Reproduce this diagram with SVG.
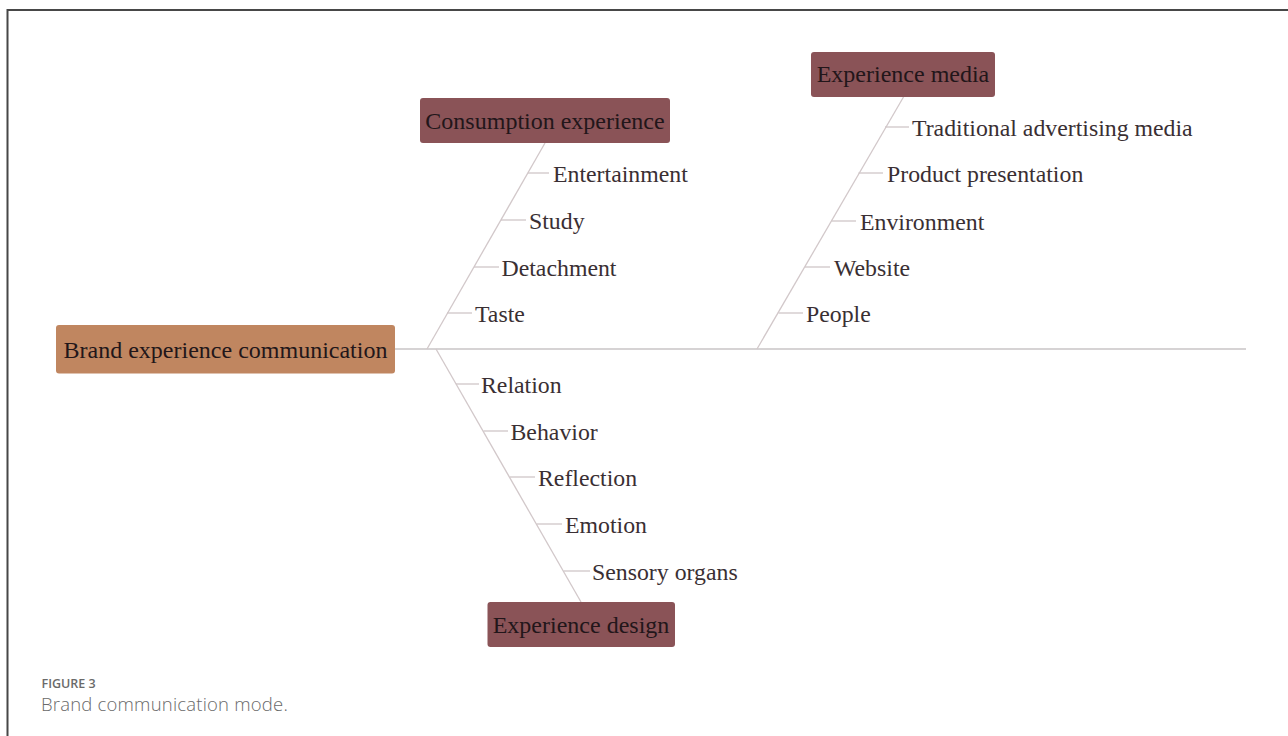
<svg xmlns="http://www.w3.org/2000/svg" width="1288" height="736" viewBox="0 0 1288 736">
<style>
.frame{stroke:#474747;stroke-width:2;fill:none}
.spine{stroke:#d6d3d4;stroke-width:2;fill:none}
.branch{stroke:#d2c8ca;stroke-width:1.3;fill:none}
.tick{stroke:#cfc6c8;stroke-width:1.3;fill:none}
.box{fill:#8a5357}
.root{fill:#c08660}
.lbl{font-family:"Liberation Serif","Times New Roman",serif;font-size:23.8px;fill:#3a2f33}
.blbl{font-family:"Liberation Serif","Times New Roman",serif;font-size:24px;fill:#22161a;text-anchor:middle}
.cap1{font-family:"Open Sans","Noto Sans",sans-serif;font-size:12.5px;fill:#6a6a6a;font-weight:600}
.cap2{font-family:"Open Sans","Noto Sans",sans-serif;font-size:18.5px;fill:#6a6a6a;font-weight:300;letter-spacing:0.2px}
</style>
<rect width="1288" height="736" fill="#ffffff"/>
<path class="frame" d="M7.5 736 V10 H1288"/>

<g id="connectors">
<line class="spine" x1="395" y1="349" x2="1246" y2="349"/>
<line class="branch" x1="545" y1="143" x2="427" y2="349"/>
<line class="branch" x1="903.5" y1="97" x2="757" y2="349"/>
<line class="branch" x1="436" y1="349" x2="581" y2="602"/>
<line class="tick" x1="528" y1="173" x2="549" y2="173"/>
<line class="tick" x1="501" y1="220" x2="526" y2="220"/>
<line class="tick" x1="474" y1="267" x2="499" y2="267"/>
<line class="tick" x1="447" y1="313" x2="472" y2="313"/>
<line class="tick" x1="885" y1="127" x2="909" y2="127"/>
<line class="tick" x1="858.5" y1="173" x2="883" y2="173"/>
<line class="tick" x1="831.5" y1="221" x2="856" y2="221"/>
<line class="tick" x1="805" y1="267" x2="830" y2="267"/>
<line class="tick" x1="778.5" y1="313" x2="803" y2="313"/>
<line class="tick" x1="456" y1="384" x2="479" y2="384"/>
<line class="tick" x1="483.5" y1="431" x2="508" y2="431"/>
<line class="tick" x1="510" y1="477" x2="535" y2="477"/>
<line class="tick" x1="536.5" y1="524" x2="562" y2="524"/>
<line class="tick" x1="563.5" y1="571" x2="590" y2="571"/>
</g>

<g id="root">
<rect class="root" x="56" y="325" width="339" height="48.5" rx="3"/>
<text class="blbl" x="225.5" y="357.5">Brand experience communication</text>
</g>

<g id="consumption">
<rect class="box" x="420" y="98" width="250" height="45" rx="3"/>
<text class="blbl" x="545" y="128.5">Consumption experience</text>
</g>
<g id="media">
<rect class="box" x="811" y="52" width="184" height="45" rx="3"/>
<text class="blbl" x="903" y="82">Experience media</text>
</g>
<g id="design">
<rect class="box" x="487.5" y="602" width="187.5" height="45" rx="3"/>
<text class="blbl" x="581" y="633">Experience design</text>
</g>

<g id="c1"><text class="lbl" x="553" y="181.5">Entertainment</text></g>
<g id="c2"><text class="lbl" x="529" y="228.5">Study</text></g>
<g id="c3"><text class="lbl" x="501.5" y="275.5">Detachment</text></g>
<g id="c4"><text class="lbl" x="475" y="321.5">Taste</text></g>

<g id="m1"><text class="lbl" x="912" y="135.5">Traditional advertising media</text></g>
<g id="m2"><text class="lbl" x="887" y="181.5">Product presentation</text></g>
<g id="m3"><text class="lbl" x="860" y="229.5">Environment</text></g>
<g id="m4"><text class="lbl" x="834" y="275.5">Website</text></g>
<g id="m5"><text class="lbl" x="806" y="321.5">People</text></g>

<g id="d1"><text class="lbl" x="481" y="392.5">Relation</text></g>
<g id="d2"><text class="lbl" x="510.5" y="439.5">Behavior</text></g>
<g id="d3"><text class="lbl" x="538" y="485.5">Reflection</text></g>
<g id="d4"><text class="lbl" x="565" y="532.5">Emotion</text></g>
<g id="d5"><text class="lbl" x="592" y="579.5">Sensory organs</text></g>

<g id="caption">
<text class="cap1" x="41.5" y="688">FIGURE 3</text>
<text class="cap2" x="41" y="710.5">Brand communication mode.</text>
</g>
</svg>
